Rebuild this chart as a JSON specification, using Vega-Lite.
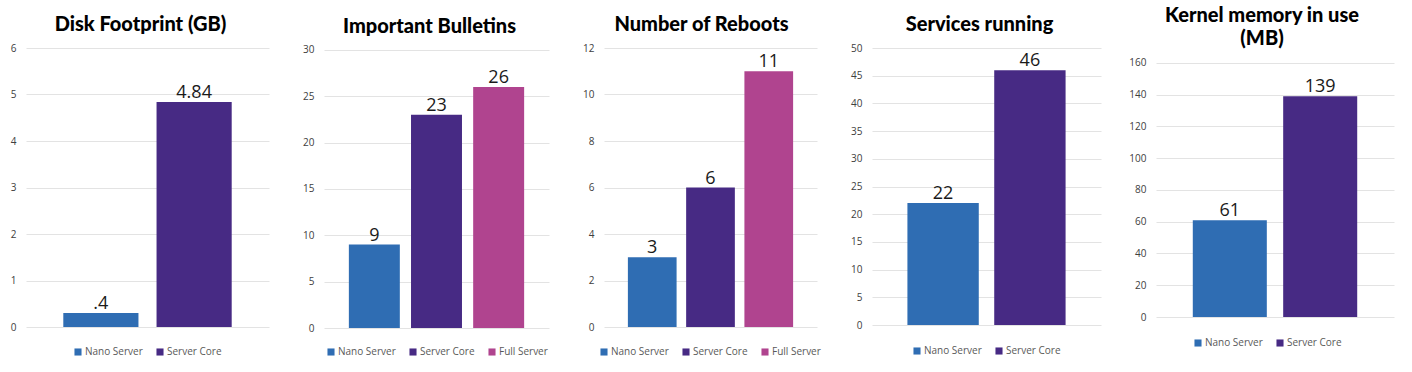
{
  "$schema": "https://vega.github.io/schema/vega-lite/v6.json",
  "background": "white",
  "padding": {"left": 10, "top": 6, "right": 5, "bottom": 5},
  "bounds": "flush",
  "spacing": 55,
  "config": {
    "view": {"stroke": null},
    "font": "Open Sans",
    "title": {"anchor": "middle", "font": "Lato", "fontSize": 20, "fontWeight": 900, "color": "#000000", "offset": 8, "lineHeight": 23},
    "axisY": {"domain": false, "ticks": false, "grid": true, "gridColor": "#e3e3e3", "labelFontSize": 10, "labelColor": "#404040", "labelPadding": 10, "title": null, "minExtent": 0, "labelFont": "Open Sans"},
    "legend": {"orient": "none", "direction": "horizontal", "symbolType": "square", "symbolSize": 50, "symbolStrokeWidth": 0, "labelFontSize": 10, "labelColor": "#595959", "labelFont": "Open Sans", "columnPadding": 12, "labelOffset": 2, "padding": 0, "title": null},
    "text": {"font": "Open Sans", "fontSize": 18, "color": "#1a1a1a", "baseline": "alphabetic", "dy": -4}
  },
  "datasets": {
    "disk": [
      {"server": "Nano Server", "value": 0.3, "label": ".4"},
      {"server": "Server Core", "value": 4.84, "label": "4.84"}
    ],
    "bulletins": [
      {"server": "Nano Server", "value": 9, "label": "9"},
      {"server": "Server Core", "value": 23, "label": "23"},
      {"server": "Full Server", "value": 26, "label": "26"}
    ],
    "reboots": [
      {"server": "Nano Server", "value": 3, "label": "3"},
      {"server": "Server Core", "value": 6, "label": "6"},
      {"server": "Full Server", "value": 11, "label": "11"}
    ],
    "services": [
      {"server": "Nano Server", "value": 22, "label": "22"},
      {"server": "Server Core", "value": 46, "label": "46"}
    ],
    "kernel": [
      {"server": "Nano Server", "value": 61, "label": "61"},
      {"server": "Server Core", "value": 139, "label": "139"}
    ]
  },
  "resolve": {"scale": {"x": "independent", "y": "independent", "color": "independent"}, "legend": {"color": "independent"}},
  "hconcat": [
    {
      "width": 243, "height": 279,
      "title": {"text": "Disk Footprint (GB)", "dx": -7},
      "data": {"name": "disk"},
      "encoding": {
        "x": {"field": "server", "type": "nominal", "sort": ["Nano Server", "Server Core"], "axis": null, "scale": {"paddingInner": 0.194, "paddingOuter": 0.4}},
        "y": {"field": "value", "type": "quantitative", "scale": {"domain": [0, 6], "nice": false}, "axis": {"values": [0, 1, 2, 3, 4, 5, 6]}}
      },
      "layer": [
        {"mark": {"type": "bar"}, "encoding": {"color": {"field": "server", "type": "nominal", "scale": {"domain": ["Nano Server", "Server Core"], "range": ["#2f6db3", "#472a84"]}, "legend": {"legendX": 47, "legendY": 299}}}},
        {"mark": {"type": "text"}, "encoding": {"text": {"field": "label"}}}
      ]
    },
    {
      "width": 225, "height": 280,
      "title": {"text": "Important Bulletins", "dx": -7},
      "data": {"name": "bulletins"},
      "encoding": {
        "x": {"field": "server", "type": "nominal", "sort": ["Nano Server", "Server Core", "Full Server"], "axis": null, "scale": {"paddingInner": 0.18, "paddingOuter": 0.4}},
        "y": {"field": "value", "type": "quantitative", "scale": {"domain": [0, 30.2], "nice": false}, "axis": {"values": [0, 5, 10, 15, 20, 25, 30]}}
      },
      "layer": [
        {"mark": {"type": "bar"}, "encoding": {"color": {"field": "server", "type": "nominal", "scale": {"domain": ["Nano Server", "Server Core", "Full Server"], "range": ["#2f6db3", "#472a84", "#b0448f"]}, "legend": {"legendX": 2, "legendY": 299}}}},
        {"mark": {"type": "text"}, "encoding": {"text": {"field": "label"}}}
      ]
    },
    {
      "width": 213, "height": 279,
      "title": {"text": "Number of  Reboots", "dx": -9},
      "data": {"name": "reboots"},
      "encoding": {
        "x": {"field": "server", "type": "nominal", "sort": ["Nano Server", "Server Core", "Full Server"], "axis": null, "scale": {"paddingInner": 0.164, "paddingOuter": 0.41}},
        "y": {"field": "value", "type": "quantitative", "scale": {"domain": [0, 12], "nice": false}, "axis": {"values": [0, 2, 4, 6, 8, 10, 12]}}
      },
      "layer": [
        {"mark": {"type": "bar"}, "encoding": {"color": {"field": "server", "type": "nominal", "scale": {"domain": ["Nano Server", "Server Core", "Full Server"], "range": ["#2f6db3", "#472a84", "#b0448f"]}, "legend": {"legendX": -5, "legendY": 299}}}},
        {"mark": {"type": "text"}, "encoding": {"text": {"field": "label"}}}
      ]
    },
    {
      "width": 229, "height": 277,
      "title": {"text": "Services running", "dx": -7},
      "data": {"name": "services"},
      "encoding": {
        "x": {"field": "server", "type": "nominal", "sort": ["Nano Server", "Server Core"], "axis": null, "scale": {"paddingInner": 0.178, "paddingOuter": 0.408}},
        "y": {"field": "value", "type": "quantitative", "scale": {"domain": [0, 50], "nice": false}, "axis": {"values": [0, 5, 10, 15, 20, 25, 30, 35, 40, 45, 50]}}
      },
      "layer": [
        {"mark": {"type": "bar"}, "encoding": {"color": {"field": "server", "type": "nominal", "scale": {"domain": ["Nano Server", "Server Core"], "range": ["#2f6db3", "#472a84"]}, "legend": {"legendX": 40, "legendY": 298}}}},
        {"mark": {"type": "text"}, "encoding": {"text": {"field": "label"}}}
      ]
    },
    {
      "width": 238, "height": 269,
      "title": {"text": ["Kernel memory in use", "(MB)"], "dx": -13, "offset": -1},
      "data": {"name": "kernel"},
      "encoding": {
        "x": {"field": "server", "type": "nominal", "sort": ["Nano Server", "Server Core"], "axis": null, "scale": {"paddingInner": 0.181, "paddingOuter": 0.407}},
        "y": {"field": "value", "type": "quantitative", "scale": {"domain": [0, 169.4], "nice": false}, "axis": {"values": [0, 20, 40, 60, 80, 100, 120, 140, 160]}}
      },
      "layer": [
        {"mark": {"type": "bar"}, "encoding": {"color": {"field": "server", "type": "nominal", "scale": {"domain": ["Nano Server", "Server Core"], "range": ["#2f6db3", "#472a84"]}, "legend": {"legendX": 37, "legendY": 290}}}},
        {"mark": {"type": "text"}, "encoding": {"text": {"field": "label"}}}
      ]
    }
  ]
}
